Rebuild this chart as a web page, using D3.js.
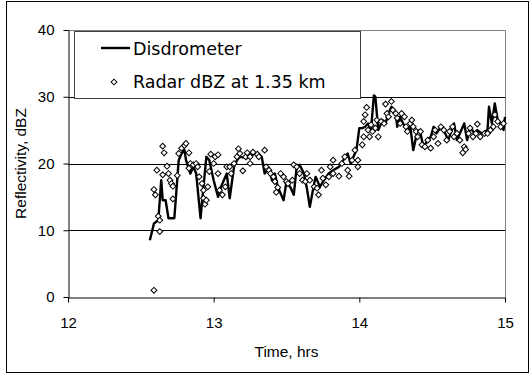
<!DOCTYPE html>
<html>
<head>
<meta charset="utf-8">
<script src="https://cdn.jsdelivr.net/npm/d3@7"></script>
<style>
  body { margin: 0; background: #fff; }
  svg { display: block; }
  .tick-label { font-family: "Liberation Sans", Arial, sans-serif; font-size: 15px; fill: #000; }
  .axis-title { font-family: "Liberation Sans", Arial, sans-serif; font-size: 15.5px; fill: #000; }
  .legend-text { font-family: "DejaVu Sans", Verdana, sans-serif; font-size: 17.5px; fill: #000; }
</style>
</head>
<body>
<svg id="chart"></svg>
<script>
// disdrometer reflectivity (line)
var disTime = [12.562, 12.59, 12.62, 12.64, 12.65, 12.67, 12.69, 12.73, 12.76, 12.78, 12.80, 12.81, 12.84, 12.86, 12.88,
  12.91, 12.93, 12.95, 12.97, 13.0, 13.03, 13.05, 13.07, 13.09, 13.11, 13.14, 13.16, 13.18, 13.23, 13.26, 13.30,
  13.33, 13.35, 13.38, 13.40, 13.42, 13.44, 13.48, 13.50, 13.53, 13.55, 13.57, 13.59, 13.62, 13.64, 13.66, 13.69,
  13.70, 13.73, 13.75, 13.79, 13.82, 13.86, 13.89, 13.92, 13.94, 13.96, 13.98, 14.0, 14.02, 14.04, 14.06, 14.08,
  14.10, 14.11, 14.13, 14.16, 14.18, 14.20, 14.22, 14.25, 14.26, 14.28, 14.30, 14.33, 14.35, 14.37, 14.40, 14.42,
  14.44, 14.47, 14.49, 14.51, 14.53, 14.56, 14.59, 14.61, 14.65, 14.67, 14.69, 14.72, 14.74, 14.76, 14.79, 14.81,
  14.84, 14.88, 14.89, 14.91, 14.93, 14.95, 14.97, 14.99, 15.0];
var disDbz = [8.5, 11, 11.5, 17.5, 14.5, 14.5, 11.8, 11.8, 20.5, 21.5, 22, 20.5, 18.5, 19.5, 18.5,
  11.8, 16.5, 21, 20.5, 17.5, 15, 16.5, 17.5, 18.5, 14.8, 19.5, 20.5, 21, 20.8, 21.3, 21.5,
  21, 18.5, 19.3, 17.5, 18.5, 16.5, 14.5, 17.3, 16.3, 15.3, 19.5, 19.8, 18.5, 16.3, 13.5, 17,
  18, 16.5, 17.3, 18.5, 19, 19.5, 20.5, 21.5, 20, 21, 22, 25.3, 25.3, 25.5, 26, 25,
  30.2, 30, 25, 26.5, 26, 27.5, 28.5, 27.5, 25.5, 27, 26, 25, 25.5, 22, 25, 24.5,
  22.5, 23.5, 24, 25.5, 24.5, 25.5, 24.5, 23.5, 26, 23.5, 24.5, 26, 23.5, 25.5, 24.5, 25,
  24.5, 25, 28.5, 26, 29, 26.5, 26, 25, 27];

// radar reflectivity at 1.35 km (diamonds)
var radTime = [12.59, 12.59, 12.60, 12.61, 12.62, 12.63, 12.63, 12.65, 12.66, 12.65, 12.68, 12.69, 12.70, 12.71, 12.72,
  12.72, 12.75, 12.76, 12.78, 12.80, 12.81, 12.83, 12.83, 12.84, 12.86, 12.88, 12.89, 12.90, 12.92, 12.93, 12.93,
  12.94, 12.95, 12.96, 12.97, 12.98, 13.00, 13.01, 13.03, 13.03, 13.04, 13.06, 13.08, 13.09, 13.11, 13.12, 13.14,
  13.16, 13.17, 13.18, 13.20, 13.22, 13.23, 13.25, 13.25, 13.27, 13.30, 13.31, 13.35, 13.36, 13.38, 13.39, 13.41,
  13.42, 13.43, 13.44, 13.46, 13.48, 13.50, 13.51, 13.54, 13.55, 13.57, 13.59, 13.61, 13.63, 13.64, 13.66, 13.69,
  13.71, 13.72, 13.74, 13.75, 13.77, 13.79, 13.80, 13.82, 13.82, 13.86, 13.88, 13.90, 13.92, 13.93, 13.95, 13.97,
  13.99, 13.99, 14.02, 14.03, 14.03, 14.04, 14.05, 14.06, 14.07, 14.08, 14.09, 14.11, 14.12, 14.13, 14.15, 14.17,
  14.18, 14.19, 14.20, 14.22, 14.23, 14.25, 14.26, 14.28, 14.29, 14.31, 14.32, 14.33, 14.35, 14.36, 14.37, 14.39,
  14.40, 14.42, 14.43, 14.45, 14.47, 14.49, 14.51, 14.52, 14.54, 14.56, 14.58, 14.60, 14.62, 14.64, 14.65, 14.67,
  14.69, 14.71, 14.72, 14.73, 14.75, 14.76, 14.78, 14.80, 14.81, 14.83, 14.86, 14.88, 14.90, 14.92, 14.93, 14.95,
  14.97, 14.99];
var radDbz = [1, 16.1, 15.3, 19, 12.1, 9.8, 11.5, 22.6, 21.6, 18.3, 19.6, 18.5, 17.5, 17, 16.6,
  14.7, 18.2, 21.5, 22.3, 22.7, 23, 21.6, 19.3, 20, 19.8, 20, 19.5, 18, 17, 16, 14.8,
  13.9, 14.5, 16.5, 18.8, 21.4, 20, 21, 18.5, 21.3, 16, 15.3, 16.5, 19.5, 19.5, 18.5, 20,
  21, 22.2, 21.5, 18.9, 21, 21.6, 20, 21, 21.7, 21.4, 21, 22, 19.5, 19, 18.5, 18,
  17.3, 15.7, 16.4, 18.5, 18, 17.3, 17, 17.5, 19.8, 19.5, 18.5, 17.5, 17.3, 18.5, 17.5, 16.5,
  16.3, 15.3, 19, 17.8, 16.8, 18, 19.5, 20.5, 18.5, 18.1, 20, 21, 19, 18.1, 20.5, 22,
  20.5, 19.5, 22.8, 24, 26.3, 27.3, 28.4, 25, 24, 25.8, 24.8, 25.3, 26.5, 24, 26.3, 26,
  28.9, 27.5, 27, 29.3, 28, 27.5, 26.8, 26, 27.5, 27, 25.5, 24.8, 26, 26.5, 25.5, 24.8,
  24, 24.8, 22.8, 22.5, 23.5, 22.3, 24, 25, 23, 25.5, 25, 23.5, 24.8, 25.5, 24, 24.5,
  23.5, 21.6, 22.5, 22.1, 24.5, 25.3, 24, 24.5, 25.9, 24, 24.5, 24.5, 25, 25.5, 27.3, 26.3,
  25.5, 26];

var xTicks = [12, 13, 14, 15];
var yTicks = [0, 10, 20, 30, 40];
var seriesNames = ["Disdrometer", "Radar dBZ at 1.35 km"];

var W = 531, H = 375;
var margin = { top: 30, right: 26, bottom: 78, left: 68 };
var width = W - margin.left - margin.right;
var height = H - margin.top - margin.bottom;

var svg = d3.select("#chart").attr("width", W).attr("height", H);

// outer chart frame
svg.append("rect")
  .attr("x", 6.5).attr("y", 1.5)
  .attr("width", 522).attr("height", 371)
  .attr("fill", "#fff").attr("stroke", "#000").attr("stroke-width", 1);

var chart = svg.append("g")
  .attr("transform", "translate(" + margin.left + "," + margin.top + ")");

var x = d3.scaleLinear().domain([12, 15]).range([0, width]);
var y = d3.scaleLinear().domain([0, 40]).range([height, 0]);

// gridlines
chart.selectAll(".grid")
  .data([10, 20, 30])
  .enter()
  .append("line")
  .attr("x1", 0).attr("x2", width)
  .attr("y1", d => Math.round(y(d)) + 0.5)
  .attr("y2", d => Math.round(y(d)) + 0.5)
  .attr("stroke", "#000").attr("stroke-width", 1);

// plot area top/right border
chart.append("path")
  .attr("d", "M0,0.5H" + (width + 0.5) + "V" + height)
  .attr("fill", "none").attr("stroke", "#808080").attr("stroke-width", 1);

// y axis
var yAxis = chart.append("g")
  .attr("transform", "translate(0.5,0)")
  .call(d3.axisLeft(y).tickValues(yTicks).tickSize(5).tickSizeOuter(0).tickPadding(9));
yAxis.select(".domain").attr("stroke", "#000");
yAxis.selectAll("text").attr("class", "tick-label").attr("font-family", null).attr("font-size", null);

// x axis
var xAxis = chart.append("g")
  .attr("transform", "translate(0," + (height + 0.5) + ")")
  .call(d3.axisBottom(x).tickValues(xTicks).tickFormat(d3.format("d"))
    .tickSize(5).tickSizeOuter(0).tickPadding(15));
xAxis.selectAll("text").attr("class", "tick-label").attr("font-family", null).attr("font-size", null);

// disdrometer line
var disData = disTime.map((t, i) => [t, disDbz[i]]);
chart.append("path")
  .datum(disData)
  .attr("fill", "none")
  .attr("stroke", "#000")
  .attr("stroke-width", 2.4)
  .attr("stroke-linejoin", "round")
  .attr("d", d3.line().x(d => x(d[0])).y(d => y(d[1])));

// radar diamonds
var radData = radTime.map((t, i) => [t, radDbz[i]]);
var diamond = d3.symbol().type(d3.symbolSquare).size(17);
chart.selectAll(".rad")
  .data(radData)
  .enter()
  .append("path")
  .attr("class", "rad")
  .attr("d", diamond)
  .attr("transform", d => "translate(" + x(d[0]) + "," + y(d[1]) + ") rotate(45)")
  .attr("fill", "#fff")
  .attr("stroke", "#000")
  .attr("stroke-width", 1);

// axis titles
svg.append("text")
  .attr("class", "axis-title")
  .attr("x", margin.left + width / 2)
  .attr("y", 357)
  .attr("text-anchor", "middle")
  .text("Time, hrs");

svg.append("text")
  .attr("class", "axis-title")
  .attr("transform", "translate(26," + (margin.top + height / 2) + ") rotate(-90)")
  .attr("text-anchor", "middle")
  .text("Reflectivity, dBZ");

// legend
var legend = svg.append("g").attr("transform", "translate(74,31)");
legend.append("rect")
  .attr("x", 0.5).attr("y", 0.5)
  .attr("width", 286).attr("height", 67)
  .attr("fill", "#fff").attr("stroke", "#404040").attr("stroke-width", 1);
legend.append("line")
  .attr("x1", 27).attr("x2", 56)
  .attr("y1", 17).attr("y2", 17)
  .attr("stroke", "#000").attr("stroke-width", 2.4);
legend.append("path")
  .attr("d", diamond)
  .attr("transform", "translate(40,51) rotate(45)")
  .attr("fill", "#fff").attr("stroke", "#000");
legend.selectAll(".legend-text")
  .data(seriesNames)
  .enter()
  .append("text")
  .attr("class", "legend-text")
  .attr("x", 59)
  .attr("y", (d, i) => 24 + i * 33)
  .text(d => d);
</script>
</body>
</html>
